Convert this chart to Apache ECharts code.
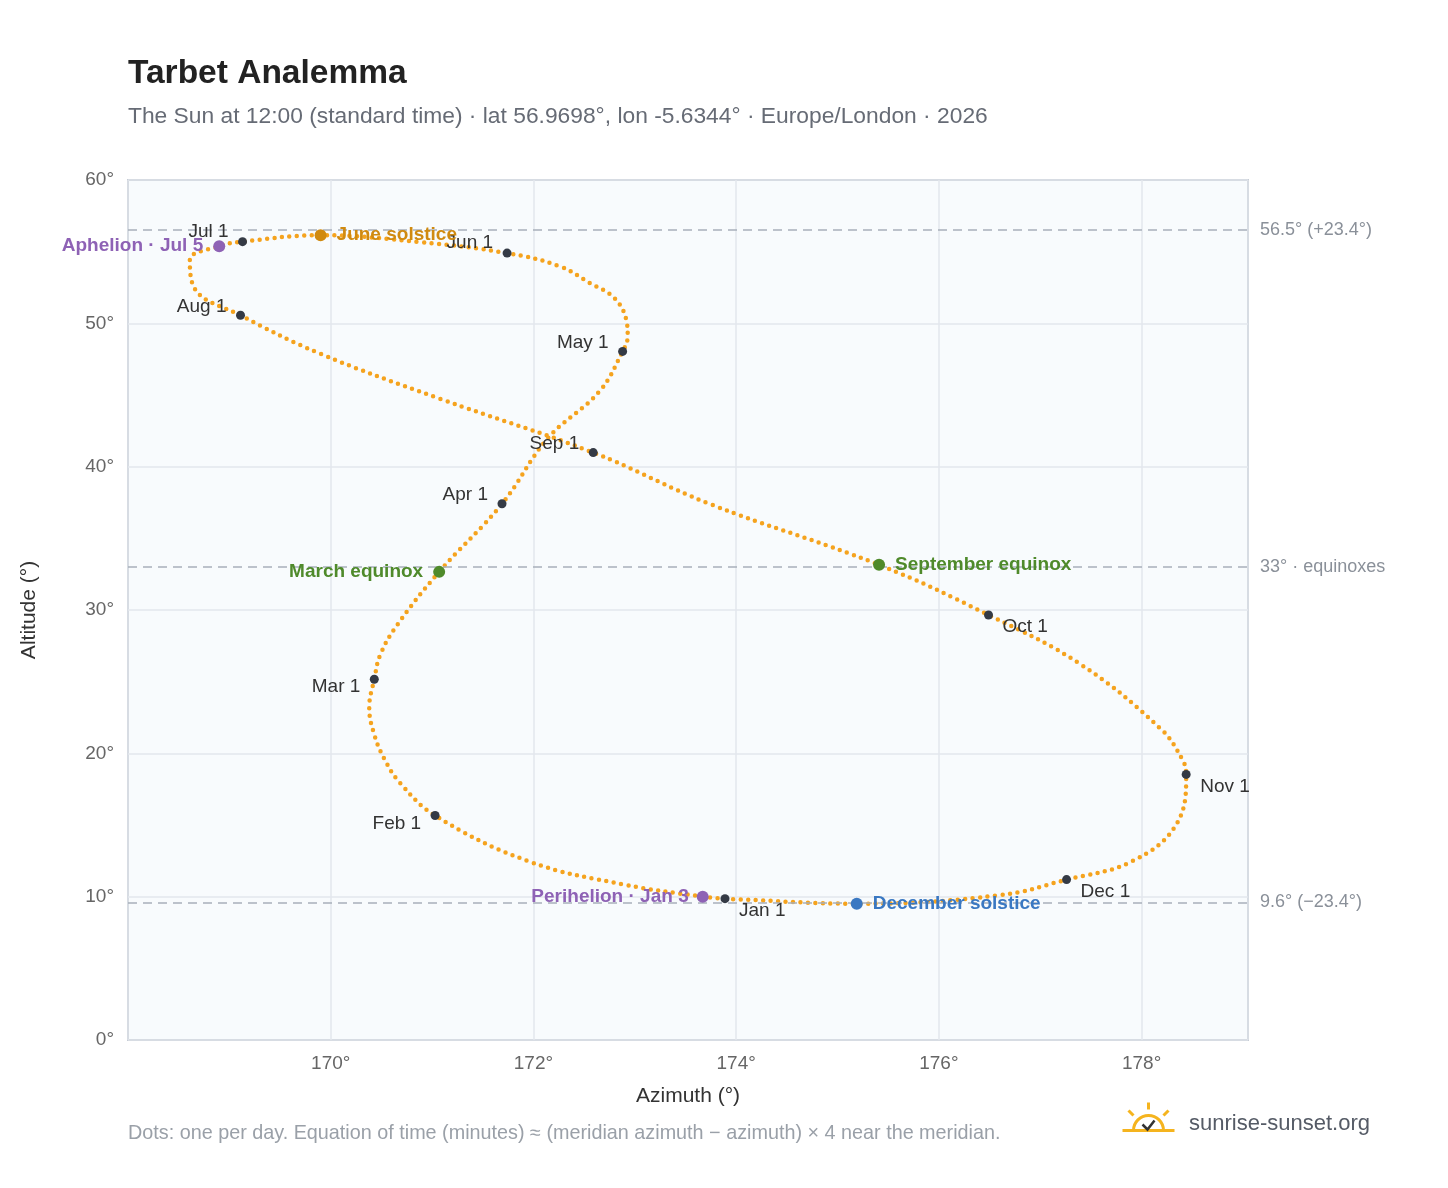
<!DOCTYPE html>
<html><head><meta charset="utf-8">
<script src="https://cdn.jsdelivr.net/npm/echarts@6/dist/echarts.min.js"></script>
<style>html,body{margin:0;background:#fff}#c{width:1448px;height:1188px}</style>
</head><body><div id="c"></div>
<script>
// Path readings (azimuth °, altitude °), chronological through 2026
const pathAz  = [173.89,173.67,172.9,171.96,171.03,170.68,170.53,170.43,170.38,170.43,170.49,170.66,171.07,171.69,172.14,172.65,172.88,172.93,172.92,172.8,172.56,172.26,171.74,170.88,169.9,169.13,168.9,168.61,168.66,169.11,169.89,171.07,172.59,173.74,175.41,176.49,177.4,178.19,178.4,178.44,178.34,177.9,177.26,176.6,175.19,173.99];
const pathAlt = [9.86,10.0,10.84,12.45,15.66,17.97,19.6,21.3,23.2,25.17,26.9,29.0,32.66,37.41,41.96,45.25,48.04,49.1,50.1,51.75,52.8,53.98,54.9,55.66,56.15,55.7,55.38,54.4,52.4,50.56,47.9,44.76,40.98,37.4,33.15,29.65,26.2,21.7,19.6,18.53,15.0,12.45,11.19,10.1,9.51,9.82];
// Month-start markers
const monthNames = ["Jan 1","Feb 1","Mar 1","Apr 1","May 1","Jun 1","Jul 1","Aug 1","Sep 1","Oct 1","Nov 1","Dec 1"];
const monthAz  = [173.89,171.03,170.43,171.69,172.88,171.74,169.13,169.11,172.59,176.49,178.44,177.26];
const monthAlt = [9.86,15.66,25.17,37.41,48.04,54.9,55.7,50.56,40.98,29.65,18.53,11.19];
// Events
const eventNames = ["Perihelion · Jan 3","March equinox","June solstice","Aphelion · Jul 5","September equinox","December solstice"];
const eventAz  = [173.67,171.07,169.9,168.9,175.41,175.19];
const eventAlt = [10.0,32.66,56.15,55.38,33.15,9.51];
const eventColors = ["#8e62b5","#4f8a2b","#d08a10","#8e62b5","#4f8a2b","#3a78c2"];
const refLines = [56.5,33,9.6];
const refLabels = ["56.5° (+23.4°)","33° · equinoxes","9.6° (−23.4°)"];

// label placement (style)
const monthPos = [[14,12,'left'],[-14,8,'right'],[-14,8,'right'],[-14,-9,'right'],[-14,-9,'right'],[-14,-10,'right'],[-14,-10,'right'],[-14,-9,'right'],[-14,-9,'right'],[14,12,'left'],[14,12,'left'],[14,12,'left']];
const eventPos = [[-14,0,'right'],[-16,0,'right'],[16,0,'left'],[-16,0,'right'],[16,0,'left'],[16,0,'left']];

const ch = echarts.init(document.getElementById('c'));
const font = 'Liberation Sans, Arial, sans-serif';
ch.setOption({
  animation:false,
  textStyle:{fontFamily:font},
  title:[{text:'Tarbet Analemma',left:128,top:57,padding:0,textStyle:{fontSize:33.5,fontWeight:'bold',color:'#222',fontFamily:font}},
    {text:'The Sun at 12:00 (standard time) · lat 56.9698°, lon -5.6344° · Europe/London · 2026',left:128,top:105,padding:0,textStyle:{fontSize:22.8,fontWeight:'normal',color:'#666b75',fontFamily:font}},
    {text:'Dots: one per day. Equation of time (minutes) ≈ (meridian azimuth − azimuth) × 4 near the meridian.',left:128,top:1124,padding:0,textStyle:{fontSize:19.8,fontWeight:'normal',color:'#9aa0a8',fontFamily:font}},
    {text:'sunrise-sunset.org',left:1189,top:1113,padding:0,textStyle:{fontSize:22,fontWeight:'normal',color:'#555b66',fontFamily:font}}],
  grid:{left:128,right:200,top:180,bottom:148,show:true,backgroundColor:'#f8fbfd',borderColor:'#9aa5b5',borderWidth:1.5},
  xAxis:{type:'value',min:168,max:179.05,interval:2,name:'Azimuth (°)',nameLocation:'middle',nameGap:46,
    nameTextStyle:{fontSize:21,color:'#333'},
    axisLine:{show:false},axisTick:{show:false},
    axisLabel:{formatter:v=>v+'°',fontSize:19,color:'#666',showMinLabel:false,showMaxLabel:false,margin:14},
    splitLine:{lineStyle:{color:'#e3e7ec',width:1.5}}},
  yAxis:{type:'value',min:0,max:60,interval:10,name:'Altitude (°)',nameLocation:'middle',nameGap:88,
    nameTextStyle:{fontSize:21,color:'#333'},
    axisLine:{show:false},axisTick:{show:false},
    axisLabel:{formatter:v=>v+'°',fontSize:19,color:'#666',margin:14},
    splitLine:{lineStyle:{color:'#e3e7ec',width:1.5}}},
  series:[
    {type:'line',smooth:0.4,symbol:'none',data:pathAz.map((a,i)=>[a,pathAlt[i]]).concat([[pathAz[0],pathAlt[0]]]),
     lineStyle:{color:'#f5a31e',width:4.5,type:[0,7.5],cap:'round'},
     markLine:{silent:true,symbol:'none',data:refLines.map((v,i)=>({yAxis:v,label:{formatter:refLabels[i]}})),
       lineStyle:{color:'#a8b0ba',type:[9,6],width:1.5},
       label:{position:'end',distance:12,fontSize:18,color:'#8a9099'}}},
    {type:'scatter',symbolSize:9,itemStyle:{color:'#343a45',opacity:1},z:5,
     data:monthAz.map((a,i)=>({value:[a,monthAlt[i]],label:{show:true,formatter:monthNames[i],position:'inside',offset:[monthPos[i][0],monthPos[i][1]],align:monthPos[i][2],fontSize:19,color:'#333'}}))},
    {type:'scatter',symbolSize:12,z:6,
     data:eventAz.map((a,i)=>({value:[a,eventAlt[i]],itemStyle:{color:eventColors[i],opacity:1},label:{show:true,opacity:1,formatter:eventNames[i],position:'inside',offset:[eventPos[i][0],eventPos[i][1]],align:eventPos[i][2],fontSize:19,fontWeight:'bold',color:eventColors[i]}}))}
  ],
  graphic:[{type:'group',left:1120,top:1100,children:[
    {type:'arc',shape:{cx:28,cy:30,r:15,startAngle:Math.PI,endAngle:2*Math.PI},style:{stroke:'#f5b41e',lineWidth:3,fill:null}},
    {type:'line',shape:{x1:2,y1:30,x2:54,y2:30},style:{stroke:'#f5b41e',lineWidth:3}},
    {type:'line',shape:{x1:28,y1:2,x2:28,y2:9},style:{stroke:'#f5b41e',lineWidth:3}},
    {type:'line',shape:{x1:8,y1:10,x2:13,y2:15},style:{stroke:'#f5b41e',lineWidth:3}},
    {type:'line',shape:{x1:48,y1:10,x2:43,y2:15},style:{stroke:'#f5b41e',lineWidth:3}},
    {type:'polyline',shape:{points:[[22,24],[27,29],[34,20]]},style:{stroke:'#333',lineWidth:2.5,fill:null}}
  ]}]
});
</script></body></html>
